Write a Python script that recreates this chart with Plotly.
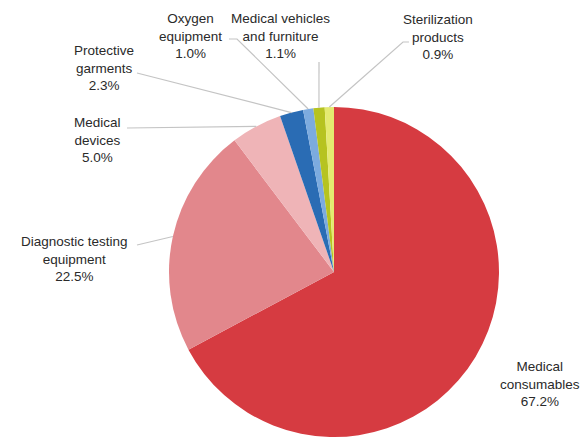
import math
import plotly.graph_objects as go

categories = ["Medical consumables", "Diagnostic testing equipment", "Medical devices",
              "Protective garments", "Oxygen equipment", "Medical vehicles and furniture",
              "Sterilization products"]
label_text = ["Medical<br>consumables", "Diagnostic testing<br>equipment", "Medical<br>devices",
              "Protective<br>garments", "Oxygen<br>equipment", "Medical vehicles<br>and furniture",
              "Sterilization<br>products"]
values = [67.2, 22.5, 5.0, 2.3, 1.0, 1.1, 0.9]
colors = ["#d63b41", "#e2878c", "#efb4b7", "#2a6cb4", "#7cabdf", "#b6c320", "#e4ea70"]

W, H = 583, 439
CX, CY, R = 334, 272, 165  # pie geometry in pixels

# label centres (px) and leader-line start (px, None = no line)
label_pos = [(540, 384), (74, 259), (97, 140), (104, 68), (190, 36), (280, 36), (438, 37)]
line_start = [None, [(137, 245)], [(127, 128)], [(137, 73)], [(229, 39), (237, 39)],
              [(319, 62)], [(409, 42), (403, 42)]]

fig = go.Figure(go.Pie(
    labels=categories, values=values, sort=False, direction="clockwise", rotation=0,
    marker=dict(colors=colors, line=dict(width=0)), textinfo="none", hoverinfo="label+percent",
    domain=dict(x=[(CX - R) / W, (CX + R) / W], y=[(H - CY - R) / H, (H - CY + R) / H]),
    showlegend=False,
))

def px(x, y):
    return x / W, 1 - y / H

total = sum(values)
cum = 0
annotations, shapes = [], []
for i, v in enumerate(values):
    mid = (cum + v / 2) / total * 2 * math.pi
    cum += v
    ex, ey = CX + R * math.sin(mid), CY - R * math.cos(mid)
    lx, ly = label_pos[i]
    annotations.append(dict(
        x=lx / W, y=1 - ly / H, xref="paper", yref="paper", showarrow=False,
        text=f"{label_text[i]}<br>{v:.1f}%", align="center",
        font=dict(family="Liberation Sans, Arial, sans-serif", size=13.5, color="#2a2a2a"),
        xanchor="center", yanchor="middle"))
    if line_start[i]:
        pts = line_start[i] + [(ex, ey)]
        path = "M " + " L ".join(f"{px(a, b)[0]:.5f},{px(a, b)[1]:.5f}" for a, b in pts)
        shapes.append(dict(type="path", path=path, xref="paper", yref="paper",
                           line=dict(color="#c4c4c4", width=1.2)))

fig.update_layout(
    width=W, height=H, margin=dict(l=0, r=0, t=0, b=0),
    paper_bgcolor="white", plot_bgcolor="white",
    annotations=annotations, shapes=shapes,
)
fig.write_html("out.html", config={"displayModeBar": False},
               post_script="document.body.style.margin='0px';")
